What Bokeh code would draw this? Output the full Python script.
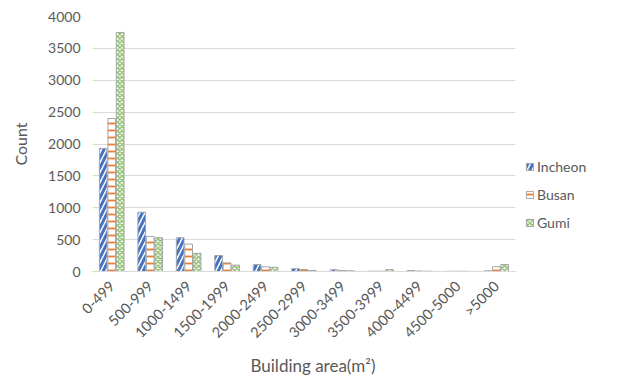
from math import pi

from bokeh.embed import file_html
from bokeh.models import ColumnDataSource, FactorRange, Legend, LegendItem, Range1d, Title
from bokeh.plotting import figure
from bokeh.resources import INLINE
from bokeh.transform import dodge

# Building-area classes and counts per city
categories = ["0-499", "500-999", "1000-1499", "1500-1999", "2000-2499", "2500-2999",
              "3000-3499", "3500-3999", "4000-4499", "4500-5000", ">5000"]
incheon = [1930, 930, 530, 250, 110, 45, 28, 5, 15, 3, 10]
busan = [2400, 550, 430, 135, 75, 30, 15, 5, 8, 3, 75]
gumi = [3750, 530, 285, 100, 65, 15, 10, 30, 5, 3, 110]
y_ticks = [0, 500, 1000, 1500, 2000, 2500, 3000, 3500, 4000]

FONT = "Lato"
TEXT = "#595959"

source = ColumnDataSource(dict(cat=categories, Incheon=incheon, Busan=busan, Gumi=gumi))

p = figure(
    frame_width=423, frame_height=255,
    x_range=FactorRange(*categories),
    y_range=Range1d(0, 4000),
    output_backend="svg", toolbar_location=None,
    min_border_left=92, min_border_right=106, min_border_top=16, min_border_bottom=0,
)
p.outline_line_color = None
p.background_fill_color = "white"
p.border_fill_color = "white"

series = [
    ("Incheon", -0.22, dict(hatch_pattern="right_diagonal_line", hatch_color="#4472C4",
                            hatch_scale=10, hatch_weight=3)),
    ("Busan", 0.0, dict(hatch_pattern="horizontal_line", hatch_color="#ED7D31",
                        hatch_scale=7, hatch_weight=1.8)),
    ("Gumi", 0.22, dict(hatch_pattern="diagonal_cross", hatch_color="#70AD47",
                        hatch_scale=4.5, hatch_weight=1.2)),
]

items = []
for name, offset, hatch in series:
    r = p.vbar(x=dodge("cat", offset, range=p.x_range), top=name, width=0.2, source=source,
               fill_color="white", line_color="#A5A5A5", line_width=1, **hatch)
    items.append(LegendItem(label=name, renderers=[r]))

legend = Legend(items=items, location=(0, 30), orientation="vertical",
                glyph_width=9, glyph_height=9, label_height=16, spacing=11,
                padding=10, margin=4, border_line_alpha=0, background_fill_alpha=0,
                label_text_font=FONT, label_text_font_size="14px",
                label_text_color=TEXT, label_standoff=3)
p.add_layout(legend, "right")

# y axis
p.yaxis.ticker = y_ticks
p.yaxis.axis_line_color = None
p.yaxis.major_tick_line_color = None
p.yaxis.minor_tick_line_color = None
p.yaxis.major_label_standoff = 6
p.yaxis.major_label_text_font = FONT
p.yaxis.major_label_text_font_size = "14px"
p.yaxis.major_label_text_color = TEXT
p.yaxis.axis_label = "Count"
p.yaxis.axis_label_text_font = FONT
p.yaxis.axis_label_text_font_size = "16px"
p.yaxis.axis_label_text_font_style = "normal"
p.yaxis.axis_label_text_color = TEXT
p.yaxis.axis_label_standoff = 15

# x axis
p.xaxis.axis_line_color = "#D9D9D9"
p.xaxis.major_tick_line_color = None
p.xaxis.minor_tick_line_color = None
p.xaxis.major_label_orientation = pi / 4
p.xaxis.major_label_standoff = 6
p.xaxis.major_label_text_font = FONT
p.xaxis.major_label_text_font_size = "14.5px"
p.xaxis.major_label_text_color = TEXT

# x-axis caption, set a little right of the frame centre
xlabel = Title(text="Building area(m\u00b2)", align="left", offset=158,
               text_font=FONT, text_font_size="17px", text_font_style="normal",
               text_color=TEXT, standoff=6)
p.add_layout(xlabel, "below")

p.xgrid.grid_line_color = None
p.ygrid.grid_line_color = "#D9D9D9"
p.ygrid.grid_line_width = 1

open("out.html", "w").write(file_html(p, INLINE))
